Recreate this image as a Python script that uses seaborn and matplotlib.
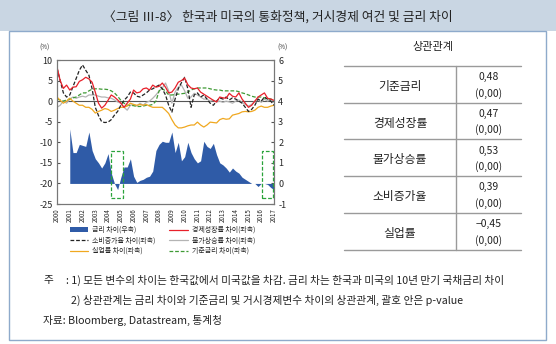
import numpy as np
import pandas as pd
import matplotlib
matplotlib.use("Agg")
import matplotlib.pyplot as plt
import seaborn as sns
from matplotlib.patches import Rectangle, Patch
from matplotlib.lines import Line2D

sns.set_style("white")
plt.rcParams['font.family'] = ['Noto Sans CJK KR', 'DejaVu Sans']
plt.rcParams['axes.unicode_minus'] = False

# ---------------- data (quarterly, 2000Q1 .. 2017Q1) ----------------
quarters = 2000 + np.arange(69) * 0.25
nan = np.nan

rate_spread = [nan, nan, nan, nan,
               2.65, 1.5, 1.5, 1.9,
               1.85, 1.8, 2.5, 1.6,
               1.2, 1.0, 0.75, 1.0,
               1.45, 0.5, 0.0, -0.3,
               0.3, 0.8, 0.8, 1.2,
               0.35, 0.05, 0.15, 0.2,
               0.3, 0.35, 0.6, 1.6,
               1.9, 2.05, 2.0, 2.0,
               2.5, 1.5, 2.0, 1.1,
               1.3, 2.0, 1.5, 1.2,
               1.0, 1.1, 2.05, 1.8,
               1.7, 1.95, 1.4, 1.0,
               0.9, 0.75, 0.55, 0.75,
               0.6, 0.5, 0.3, 0.2,
               0.1, 0.0, 0.0, -0.15,
               0.0, 0.0, -0.05, -0.2,
               -0.3]

growth_diff = [8.3, 5.0, 3.1, 3.9,
               2.7, 3.4, 3.5, 4.8,
               5.2, 5.8, 5.4, 4.6,
               2.2, -0.5, -1.7, -1.0,
               0.2, 1.5, 1.0, 0.3,
               -0.5, -1.5, -0.5, 0.5,
               2.7, 2.0, 2.2, 3.0,
               3.2, 2.7, 3.9, 3.4,
               3.6, 4.4, 3.4, 2.0,
               2.2, 3.2, 4.6, 5.0,
               5.6, 4.0, 3.2, 3.0,
               3.2, 2.2, 1.7, 1.2,
               0.7, 0.2, -0.2, 1.0,
               0.8, 0.7, 1.9, 1.2,
               1.0, 2.0, 0.5, -0.5,
               -1.5, -1.0, 0.0, 1.0,
               1.5, 2.0, 0.7, 0.5,
               0.2]

consumption_diff = [8.0, 5.0, 2.0, 1.0,
                    1.5, 3.5, 5.5, 7.5,
                    8.8, 7.5, 6.3, 3.0,
                    -1.5, -3.5, -5.0, -5.2,
                    -5.1, -4.5, -3.4, -2.5,
                    -1.0, 0.2, 1.0, 2.2,
                    2.0, 1.2, 1.0, 1.5,
                    2.0, 2.7, 3.0, 3.5,
                    3.9, 3.0, 1.5, -1.0,
                    -2.7, 0.5, 3.0, 4.5,
                    5.8, 3.0, -1.5, 1.5,
                    2.0, 1.0, 1.5, 0.5,
                    -0.5, -1.0, 0.0, 0.8,
                    0.5, 1.0, 0.3, 0.8,
                    0.5, 0.0, -0.5, -1.5,
                    -2.5, -2.0, -1.0, 0.5,
                    0.0, 1.0, 0.5, 0.0,
                    -1.0]

inflation_diff = [-1.5, -1.0, 0.0, -0.5,
                  0.5, 1.0, 0.7, 1.0,
                  1.2, 1.0, 1.5, 1.5,
                  1.5, 1.2, 1.0, 1.0,
                  0.8, 0.7, 0.3, -0.2,
                  -0.5, -1.5, -2.2, -1.0,
                  -0.8, -1.2, -0.5, -1.0,
                  -0.3, 0.0, 0.7, 1.5,
                  2.5, 3.2, 4.4, 2.5,
                  -0.5, 2.2, 3.4, 3.9,
                  2.5, 0.7, 1.0, 1.9,
                  1.5, 1.0, 0.5, 0.5,
                  0.0, 0.2, -0.2, 0.0,
                  -0.3, 0.0, -0.2, -0.5,
                  0.0, 0.3, -0.3, -0.8,
                  -1.2, -0.8, 0.0, 0.5,
                  -0.3, 0.5, 0.0, 0.5,
                  -0.3]

unemployment_diff = [1.0, 0.2, -0.5, 0.0,
                     0.7, 0.0, -0.5, -1.0,
                     -1.0, -1.5, -1.5, -2.0,
                     -2.9, -2.5, -2.2, -1.8,
                     -2.0, -2.5, -2.2, -1.8,
                     -1.5, -1.5, -1.2, -0.5,
                     -0.8, -1.0, -0.8, -1.0,
                     -0.8, -1.2, -1.5, -1.5,
                     -1.5, -1.5, -2.2, -3.0,
                     -4.5, -5.8, -6.5, -6.5,
                     -6.3, -6.0, -5.8, -5.8,
                     -5.1, -5.8, -6.3, -5.8,
                     -5.1, -5.2, -5.3, -4.5,
                     -4.2, -4.4, -4.3, -3.4,
                     -3.2, -3.0, -2.6, -2.5,
                     -2.6, -2.5, -2.2, -1.5,
                     -1.2, -1.5, -1.5, -1.2,
                     -1.0]

policy_rate_diff = [0.5, 0.3, 0.0, 0.3,
                    0.5, 0.8, 1.0, 1.5,
                    2.0, 2.0, 2.5, 2.9,
                    3.0, 3.0, 2.9, 2.9,
                    2.8, 2.5, 2.0, 1.2,
                    0.2, -0.5, -1.0, -1.0,
                    -1.1, -1.3, -1.3, -1.2,
                    -1.0, -1.0, -0.8, 0.0,
                    2.5, 3.0, 2.5, 1.5,
                    1.5, 1.6, 1.7, 1.8,
                    1.9, 2.2, 2.7, 3.0,
                    3.2, 3.2, 3.2, 3.2,
                    3.0, 2.8, 2.7, 2.7,
                    2.5, 2.5, 2.5, 2.5,
                    2.5, 2.3, 2.0, 1.8,
                    1.5, 1.2, 1.0, 1.0,
                    1.0, 0.8, 0.5, 0.5,
                    0.2]

highlight_periods = [(2004.23, 2005.17), (2016.07, 2016.93)]
highlight_range = (-0.71, 1.57)

year_ticks = list(range(2000, 2018))
left_ticks = [10, 5, 0, -5, -10, -15, -20, -25]
right_ticks = [6, 5, 4, 3, 2, 1, 0, -1]

title = "〈그림 Ⅲ-8〉 한국과 미국의 통화정책, 거시경제 여건 및 금리 차이"
legend_labels = ["금리 차이(우축)", "소비증가율 차이(좌축)", "실업률 차이(좌축)",
                 "경제성장률 차이(좌축)", "물가상승률 차이(좌축)", "기준금리 차이(좌축)"]
table_header = "상관관계"
table_rows = ["기준금리", "경제성장률", "물가상승률", "소비증가율", "실업률"]
table_corr = ["0,48", "0,47", "0,53", "0,39", "\u22120,45"]
table_pval = ["(0,00)", "(0,00)", "(0,00)", "(0,00)", "(0,00)"]
notes = ["주", ": 1) 모든 변수의 차이는 한국값에서 미국값을 차감. 금리 차는 한국과 미국의 10년 만기 국채금리 차이",
         "2) 상관관계는 금리 차이와 기준금리 및 거시경제변수 차이의 상관관계, 괄호 안은 p-value",
         "자료: Bloomberg, Datastream, 통계청"]

df = pd.DataFrame({
    "t": quarters,
    "spread": rate_spread,
    "growth": growth_diff,
    "cons": consumption_diff,
    "infl": inflation_diff,
    "unemp": unemployment_diff,
    "policy": policy_rate_diff,
})

# ---------------- figure ----------------
W, H = 556, 344
fig = plt.figure(figsize=(W / 100, H / 100), dpi=100)
fig.patch.set_facecolor("white")

def fx(px):
    return px / W

def fy(py):
    return 1 - py / H

# title bar and frame
fig.patches.append(Rectangle((0, fy(31)), 1, 31 / H, transform=fig.transFigure,
                             facecolor="#c9d6e3", edgecolor="none", zorder=0))
fig.patches.append(Rectangle((fx(9), fy(340)), fx(546) - fx(9), (340 - 31) / H,
                             transform=fig.transFigure, facecolor="none",
                             edgecolor="#8eaacb", lw=1.0, zorder=1))
fig.text(fx(278), fy(17), title, ha="center", va="center", fontsize=9.2, color="#222")

# chart axes
ax = fig.add_axes([fx(57), fy(204), fx(274) - fx(57), (204 - 60) / H])
ax2 = ax.twinx()

BLUE = "#2f5ba7"
ax2.fill_between(df["t"], 0, df["spread"], where=~df["spread"].isna(),
                 color=BLUE, linewidth=0, interpolate=True)
for (x0, x1) in highlight_periods:
    ax2.add_patch(Rectangle((x0, highlight_range[0]), x1 - x0,
                            highlight_range[1] - highlight_range[0],
                            fill=False, edgecolor="#2aa33a", lw=0.9,
                            linestyle=(0, (3, 1.5)), zorder=5))

ax.axhline(0, color="#555555", lw=0.8, zorder=1)
sns.lineplot(data=df, x="t", y="infl", ax=ax, color="#b4b4b4", lw=0.9, zorder=2)
sns.lineplot(data=df, x="t", y="policy", ax=ax, color="#3f9a35", lw=0.9, zorder=3,
             linestyle=(0, (3, 1.5)))
sns.lineplot(data=df, x="t", y="unemp", ax=ax, color="#f0a820", lw=0.9, zorder=3)
sns.lineplot(data=df, x="t", y="cons", ax=ax, color="#222222", lw=0.9, zorder=4,
             linestyle=(0, (3, 1.5)))
sns.lineplot(data=df, x="t", y="growth", ax=ax, color="#e8202a", lw=0.9, zorder=5)

ax.set_xlim(2000, 2017)
ax.set_ylim(-25, 10)
ax2.set_ylim(-1, 6)
ax.set_xlabel("")
ax.set_ylabel("")
ax2.set_ylabel("")
ax.set_xticks(year_ticks)
ax.set_xticklabels([str(y) for y in year_ticks], rotation=90, fontsize=4.5)
ax.set_yticks(left_ticks)
ax.set_yticklabels([str(v) for v in left_ticks], fontsize=6.5)
ax2.set_yticks(right_ticks)
ax2.set_yticklabels([str(v) for v in right_ticks], fontsize=6.5)
ax.tick_params(axis="y", direction="in", length=2, pad=3, color="#555")
ax.tick_params(axis="x", length=0, pad=3)
ax2.tick_params(axis="y", direction="in", length=2, pad=3, color="#555")
for a in (ax, ax2):
    for s in a.spines.values():
        s.set_color("#777777")
        s.set_linewidth(0.8)
ax.set_facecolor("none")

fig.text(fx(45), fy(48), "(%)", fontsize=4.5, ha="center", va="center", color="#333")
fig.text(fx(282), fy(48), "(%)", fontsize=4.5, ha="center", va="center", color="#333")

# legend
handles = [Patch(facecolor=BLUE, edgecolor="none"),
           Line2D([], [], color="#222222", lw=0.9, linestyle=(0, (3, 1.5))),
           Line2D([], [], color="#f0a820", lw=0.9),
           Line2D([], [], color="#e8202a", lw=0.9),
           Line2D([], [], color="#b4b4b4", lw=0.9),
           Line2D([], [], color="#3f9a35", lw=0.9, linestyle=(0, (3, 1.5)))]
fig.legend(handles, legend_labels, ncol=2, loc="upper left",
           bbox_to_anchor=(fx(70), fy(226)), frameon=False, fontsize=5,
           handlelength=2.6, handleheight=0.6, handletextpad=0.6,
           columnspacing=2.0, labelspacing=0.35, borderpad=0, borderaxespad=0)

# correlation table
fig.text(fx(433), fy(47), table_header, ha="center", va="center", fontsize=8, color="#222")
row_lines = [66, 102.7, 139.3, 176, 212.7, 250]
for yl in row_lines:
    fig.add_artist(Line2D([fx(344), fx(521)], [fy(yl), fy(yl)],
                          transform=fig.transFigure, color="#9a9a9a", lw=1.0))
fig.add_artist(Line2D([fx(456), fx(456)], [fy(66), fy(250)],
                      transform=fig.transFigure, color="#9a9a9a", lw=1.0))
for i, (lab, c, p) in enumerate(zip(table_rows, table_corr, table_pval)):
    top, bot = row_lines[i], row_lines[i + 1]
    mid = (top + bot) / 2
    fig.text(fx(400), fy(mid + 2), lab, ha="center", va="center", fontsize=8.5, color="#222")
    fig.text(fx(489), fy(mid - 7), c, ha="center", va="center", fontsize=7.5, color="#222")
    fig.text(fx(489), fy(mid + 9), p, ha="center", va="center", fontsize=7.5, color="#222")

# notes
NFS = 7.7
fig.text(fx(43), fy(280), notes[0], ha="left", va="center", fontsize=NFS, color="#222")
fig.text(fx(66), fy(280), notes[1], ha="left", va="center", fontsize=NFS, color="#222")
fig.text(fx(71), fy(300), notes[2], ha="left", va="center", fontsize=NFS, color="#222")
fig.text(fx(43), fy(320), notes[3], ha="left", va="center", fontsize=NFS, color="#222")

fig.savefig("out.png", dpi=100)
